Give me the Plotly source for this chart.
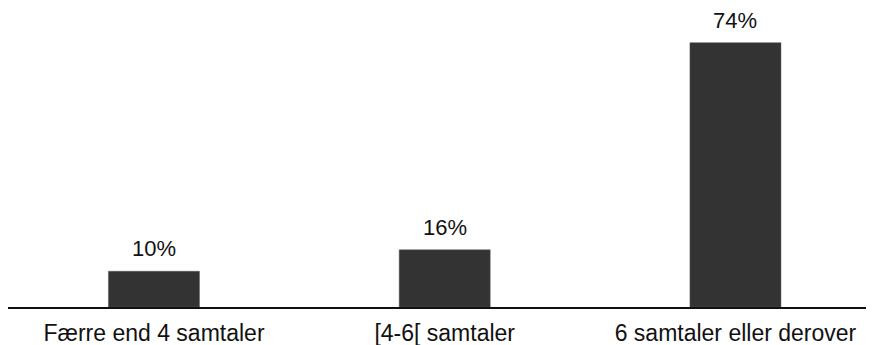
import plotly.graph_objects as go

categories = ["Færre end 4 samtaler", "[4-6[ samtaler", "6 samtaler eller derover"]
values = [10, 16, 74]
labels = [f"{v}%" for v in values]

fig = go.Figure()
fig.add_trace(go.Bar(
    x=categories, y=values,
    width=0.313,
    marker=dict(color="#333333", line=dict(color="#555555", width=0.5)),
    hoverinfo="skip",
))

for c, v, t in zip(categories, values, labels):
    fig.add_annotation(x=c, y=v, text=t, showarrow=False, yanchor="bottom",
                       yshift=8, font=dict(family="Liberation Sans, Arial", size=22, color="#111111"))

fig.update_layout(
    width=874, height=345,
    margin=dict(l=0, r=16, t=2, b=46, autoexpand=False),
    plot_bgcolor="white", paper_bgcolor="white",
    showlegend=False,
    font=dict(family="Liberation Sans, Arial", size=22, color="#111111"),
    xaxis=dict(
        type="category", range=[-0.502, 2.449],
        showline=True, linecolor="#111111", linewidth=2,
        showgrid=False, zeroline=False, ticks="",
        ticklabelstandoff=4, automargin=False,
        tickfont=dict(size=23),
    ),
    yaxis=dict(range=[0, 83.15], visible=False, showgrid=False, zeroline=False),
)

fig.write_html("out.html")
